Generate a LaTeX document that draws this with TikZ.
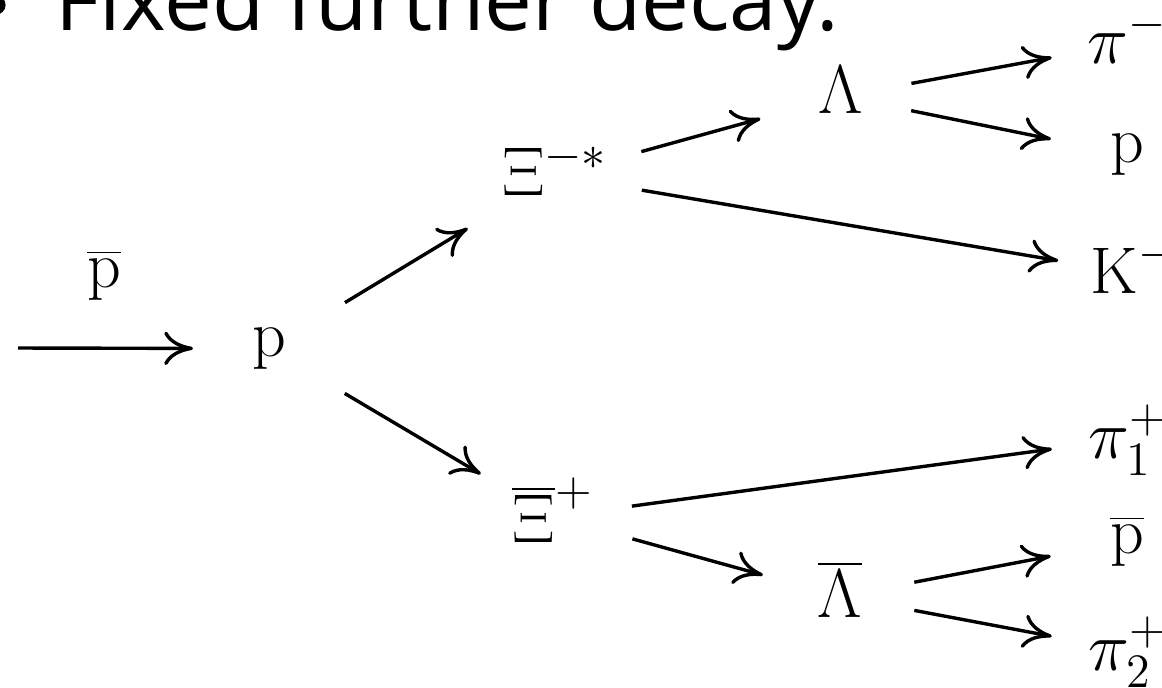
\documentclass[tikz,border=0pt]{standalone}
\usepackage{fontspec}
\newfontfamily\slidefont{Open Sans}
\usetikzlibrary{arrows.meta}
\tikzset{
  part/.style ={inner sep=0pt, text depth=3.5pt, anchor=base,
                font=\fontsize{16.5}{20}\selectfont},
  ttl/.style  ={inner sep=0pt, anchor=base west,
                font=\slidefont\fontsize{21.3}{25}\selectfont},
  fl/.style   ={-{Computer Modern Rightarrow[length=7.2pt,width=8.4pt]},
                line width=0.85pt, shorten <=#1},
  fl/.default =20pt,
}

\begin{document}
\begin{tikzpicture}[x=0.25pt, y=-0.25pt]
  \useasboundingbox (0,0) rectangle (1162,687);

  % ---- slide line --------------------------------------------------
  \node[circle, fill, inner sep=0pt, minimum size=4.8pt] (bul) at (-4,5) {};
  \node[ttl] (title) at (55,30) {Fixed further decay.};

  % ---- particles -----------------------------------------------------
  \coordinate (beam) at (18,348);
  \node[part] (pbeam) at (104,287)  {$\overline{\mathrm{p}}$};
  \node[part] (pt)    at (269,356)  {$\mathrm{p}$};
  \node[part] (xis)   at (555,195)  {$\Xi^{-*}$};
  \node[part] (xib)   at (553,542)  {$\overline{\Xi}^{+}$};
  \node[part] (lam)   at (841,113)  {$\Lambda$};
  \node[part] (lamb)  at (840,617)  {$\overline{\Lambda}$};
  \node[part] (pim)   at (1128,63)  {$\pi^{-}$};
  \node[part] (pp)    at (1127,162) {$\mathrm{p}$};
  \node[part] (km)    at (1134,293) {$\mathrm{K}^{-}$};
  \node[part] (pi1)   at (1128,458) {$\pi_1^{+}$};
  \node[part] (pbar)  at (1127,553) {$\overline{\mathrm{p}}$};
  \node[part] (pi2)   at (1128,670) {$\pi_2^{+}$};

  % ---- decays --------------------------------------------------------
  \draw[fl=0pt, shorten >=19pt]     (beam) -- (pt.center);
  \draw[fl=22.2pt, shorten >=25.5pt] (pt.center) -- (xis.center);
  \draw[fl=22pt, shorten >=21pt]     (pt.center) -- (xib.center);
  \draw[fl=22.4pt, shorten >=20.9pt] (xis.center) -- (lam.center);
  \draw[fl=22pt, shorten >=19.2pt]   (xis.center) -- (km.center);
  \draw[fl=17.9pt, shorten >=19.4pt] (lam.center) -- (pim.center);
  \draw[fl=17.9pt, shorten >=19.4pt] (lam.center) -- (pp.center);
  \draw[fl=19.9pt, shorten >=19.2pt] (xib.center) -- (pi1.center);
  \draw[fl=20.6pt, shorten >=20pt]   (xib.center) -- (lamb.center);
  \draw[fl=18.9pt, shorten >=19.4pt] (lamb.center) -- (pbar.center);
  \draw[fl=18.9pt, shorten >=19.4pt] (lamb.center) -- (pi2.center);
\end{tikzpicture}
\end{document}
